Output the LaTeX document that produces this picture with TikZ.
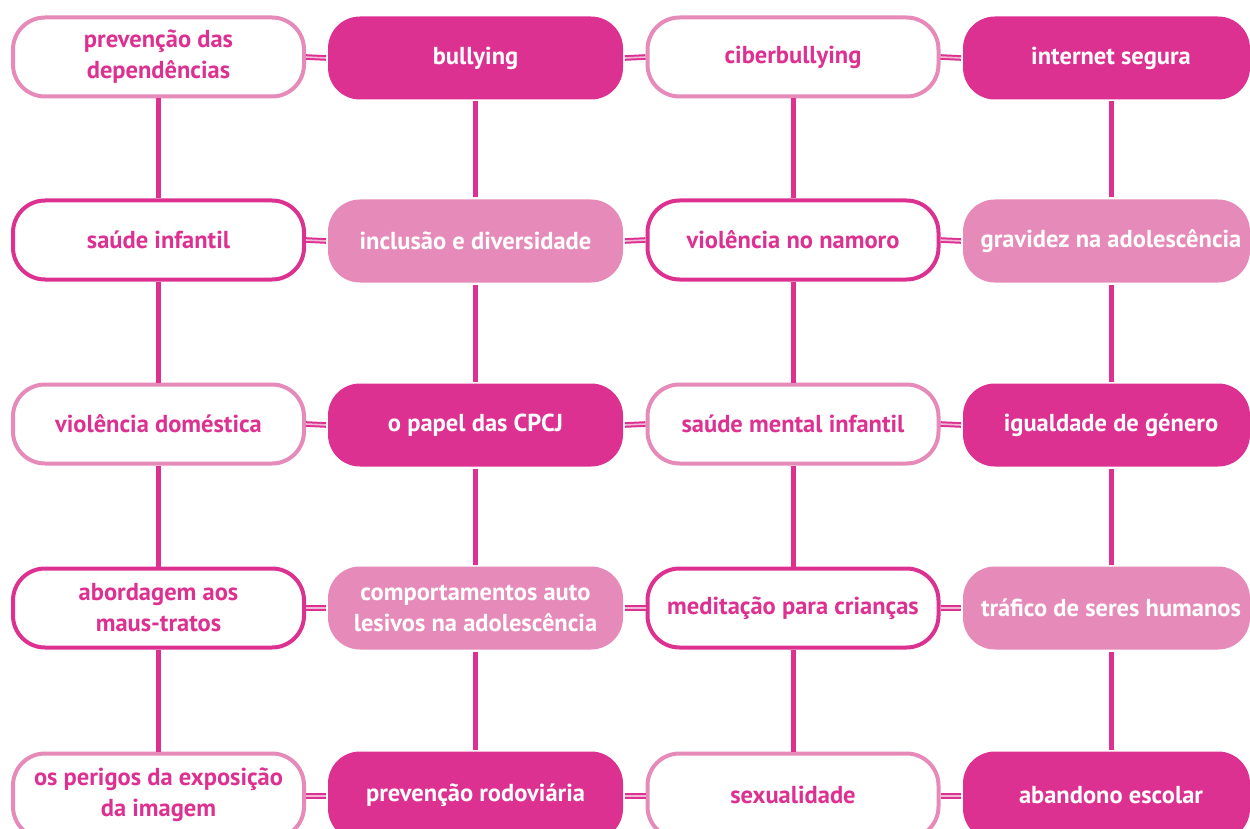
\documentclass[tikz,border=0pt]{standalone}
\usepackage{fontspec}
\setmainfont{PT Sans}
\definecolor{mag}{HTML}{DD3192}
\definecolor{pinkL}{HTML}{E68BB9}
\newcommand{\sh}{\hspace*{9pt}}
\begin{document}
\begin{tikzpicture}[x=1pt,y=-1pt,
  lbl/.style={font=\fontsize{24.5}{31}\selectfont\bfseries, align=center},
  box/.style={rectangle, rounded corners=32pt, minimum width=291pt, minimum height=79pt,
    inner sep=2pt, lbl, line width=4pt},
  wA/.style={box, draw=pinkL, fill=white, text=mag},
  wD/.style={box, draw=mag, fill=white, text=mag},
  fB/.style={box, fill=mag, text=white, minimum width=295pt, minimum height=83pt},
  fC/.style={box, fill=pinkL, text=white, minimum width=295pt, minimum height=83pt},
  hl/.style={draw=mag, line width=2pt, double=pinkL!60, double distance=1.6pt},
  vl/.style={draw=mag, line width=5pt}]
\useasboundingbox (0,0) rectangle (1250,829);
\begin{scope}
\clip (0,0) rectangle (1250,829);
% row 1
\node[wA] (a1) at (158.5,57) {prevenção das\\dependências};
\node[fB] (b1) at (475.5,58) {bullying};
\node[wA] (c1) at (793,57) {ciberbullying};
\node[fB, minimum width=287pt] (d1) at (1106.5,58) {\sh internet segura};
% row 2
\node[wD] (a2) at (158.5,240) {saúde infantil};
\node[fC] (b2) at (475.5,241) {inclusão e diversidade};
\node[wD] (c2) at (793,240) {violência no namoro};
\node[fC, minimum width=287pt] (d2) at (1106.5,241) {\sh gravidez na adolescência};
% row 3
\node[wA] (a3) at (158.5,424) {violência doméstica};
\node[fB] (b3) at (475.5,425) {o papel das CPCJ};
\node[wA] (c3) at (793,424) {saúde mental infantil};
\node[fB, minimum width=287pt] (d3) at (1106.5,425) {\sh igualdade de género};
% row 4
\node[wD] (a4) at (158.5,608) {abordagem aos\\maus-tratos};
\node[fC] (b4) at (475.5,608) {comportamentos auto\\lesivos na adolescência};
\node[wD] (c4) at (793,608) {meditação para crianças};
\node[fC, minimum width=287pt] (d4) at (1106.5,608) {\sh tráfico de seres humanos};
% row 5
\node[wA, minimum height=85pt] (a5) at (158.5,796) {};
\node[fB, minimum height=89pt] (b5) at (475.5,796) {};
\node[wA, minimum height=85pt] (c5) at (793,796) {};
\node[fB, minimum width=287pt, minimum height=89pt] (d5) at (1106.5,796) {};
\end{scope}
\node[lbl, text=mag] (t1) at (158.5,795) {os perigos da exposição\\da imagem};
\node[lbl, text=white] (t2) at (475.5,795) {prevenção rodoviária};
\node[lbl, text=mag] (t3) at (793,795) {sexualidade};
\node[lbl, text=white] (t4) at (1111,795) {abandono escolar};
% vertical connectors
\foreach \c in {a,b,c}{
  \foreach \r/\s in {1/2,2/3,3/4,4/5}{
    \draw[vl] (\c\r.south) -- (\c\s.north);
  }
}
\foreach \r/\s in {1/2,2/3,3/4,4/5}{
  \draw[vl] (d\r.south -| 1111,0) -- (d\s.north -| 1111,0);
}
% horizontal connectors
\foreach \r in {1,2,3,4,5}{
  \draw[hl] (a\r.east) -- (b\r.west);
  \draw[hl] (b\r.east) -- (c\r.west);
  \draw[hl] (c\r.east) -- (d\r.west);
}
\end{tikzpicture}
\end{document}
